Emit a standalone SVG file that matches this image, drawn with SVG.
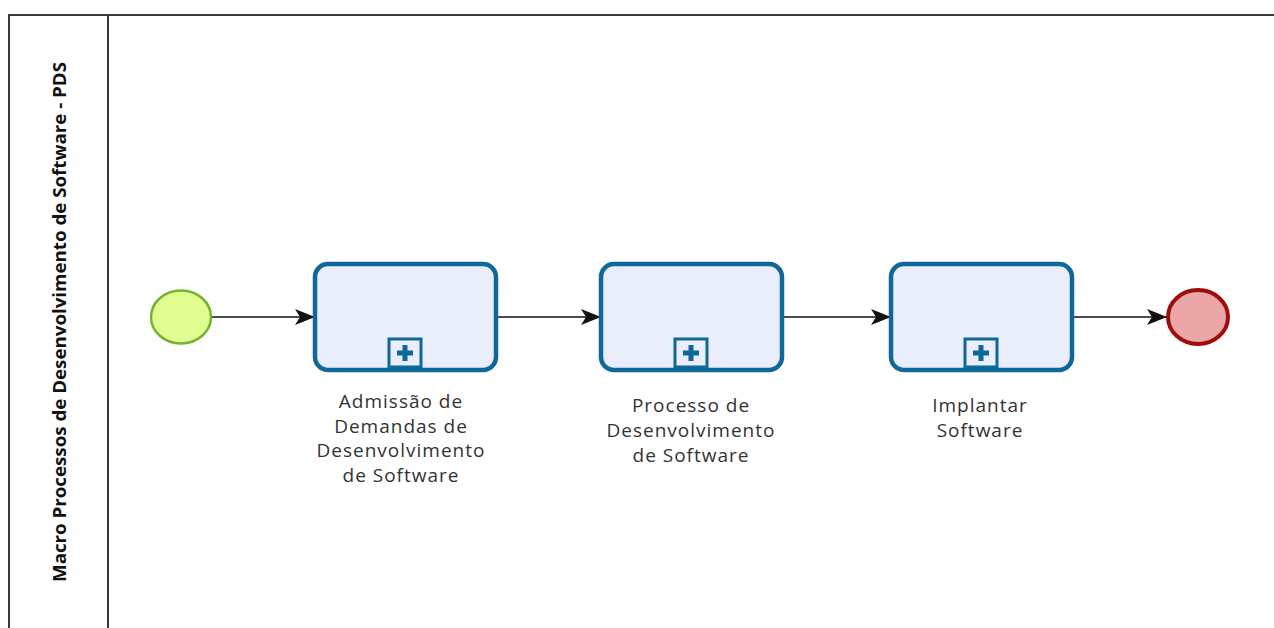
<svg xmlns="http://www.w3.org/2000/svg" width="1274" height="628" viewBox="0 0 1274 628">
  <defs>
    <style>
      .pool { fill: #ffffff; stroke: #3a3a3a; stroke-width: 2; }
      .lane-title { font-family: "Open Sans", "Liberation Sans", sans-serif; font-weight: bold; font-size: 17px; fill: #111; }
      .task { fill: #eaeefc; stroke: #0e6898; stroke-width: 4.5; }
      .marker-box { fill: #eaeefc; stroke: #0e6898; stroke-width: 3; }
      .marker-plus { fill: #0e6898; }
      .label { font-family: "Open Sans", "Liberation Sans", sans-serif; font-size: 19px; letter-spacing: 1px; fill: #333; text-anchor: middle; }
      .flow { stroke: #111; stroke-width: 1.6; fill: none; marker-end: url(#arrow); }
      .start { fill: #e1fe92; stroke: #74b32a; stroke-width: 2.5; }
      .end { fill: #eba6a8; stroke: #a00b0b; stroke-width: 4; }
    </style>
    <marker id="arrow" viewBox="0 0 20 16" refX="19" refY="8" markerWidth="20" markerHeight="16" markerUnits="userSpaceOnUse" orient="auto">
      <path d="M0,0 L20,8 L0,16 L5,8 Z" fill="#111"/>
    </marker>
    <g id="subprocess-marker">
      <rect class="marker-box" x="-16" y="-14" width="32" height="28"/>
      <rect class="marker-plus" x="-8" y="-2.5" width="16" height="5"/>
      <rect class="marker-plus" x="-2.5" y="-8" width="5" height="16"/>
    </g>
  </defs>

  <rect width="1274" height="628" fill="#ffffff"/>

  <!-- pool and lane header -->
  <g id="pool">
    <rect class="pool" x="9" y="15" width="1300" height="640"/>
    <line x1="108" y1="15" x2="108" y2="628" stroke="#3a3a3a" stroke-width="2"/>
    <text class="lane-title" transform="translate(66,322) rotate(-90)" text-anchor="middle" textLength="520" lengthAdjust="spacingAndGlyphs">Macro Processos de Desenvolvimento de Software - PDS</text>
  </g>

  <!-- sequence flows -->
  <g id="connectors">
    <line class="flow" x1="212" y1="317" x2="314" y2="317"/>
    <line class="flow" x1="497" y1="317" x2="600" y2="317"/>
    <line class="flow" x1="782" y1="317" x2="890" y2="317"/>
    <line class="flow" x1="1073" y1="317" x2="1166" y2="317"/>
  </g>

  <g id="start-event">
    <ellipse class="start" cx="181" cy="317" rx="30" ry="26.5"/>
  </g>

  <g id="task-admissao">
    <rect class="task" x="315" y="264" width="181" height="106" rx="13"/>
    <use href="#subprocess-marker" x="405" y="353"/>
    <text class="label"><tspan x="401" y="408">Admissão de</tspan><tspan x="401" y="433">Demandas de</tspan><tspan x="401" y="457">Desenvolvimento</tspan><tspan x="401" y="482">de Software</tspan></text>
  </g>

  <g id="task-processo">
    <rect class="task" x="601" y="264" width="181" height="106" rx="13"/>
    <use href="#subprocess-marker" x="691" y="353"/>
    <text class="label"><tspan x="691" y="412">Processo de</tspan><tspan x="691" y="437">Desenvolvimento</tspan><tspan x="691" y="462">de Software</tspan></text>
  </g>

  <g id="task-implantar">
    <rect class="task" x="891" y="264" width="181" height="106" rx="13"/>
    <use href="#subprocess-marker" x="981" y="353"/>
    <text class="label"><tspan x="980" y="412">Implantar</tspan><tspan x="980" y="437">Software</tspan></text>
  </g>

  <g id="end-event">
    <ellipse class="end" cx="1198" cy="317" rx="30" ry="27"/>
  </g>
</svg>
